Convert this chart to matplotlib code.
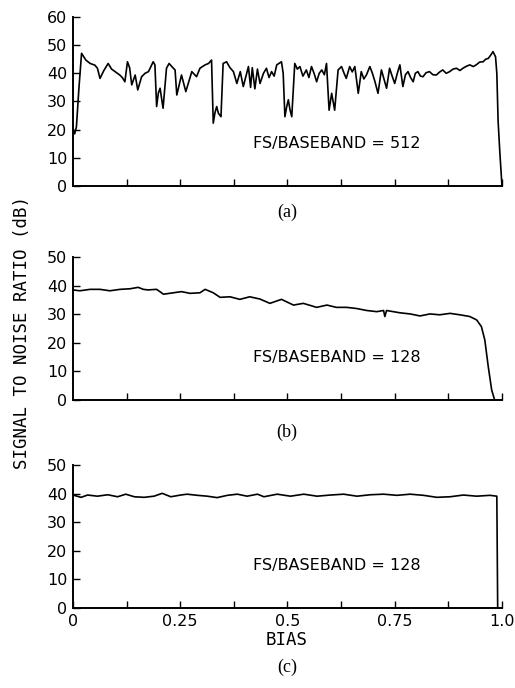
import matplotlib
matplotlib.use('Agg')
import matplotlib.pyplot as plt

# panel (a): FS/BASEBAND = 512
a_bias = [0.0, 0.004, 0.008, 0.014, 0.02, 0.03, 0.04, 0.051, 0.057, 0.063, 0.072, 0.082,
          0.09, 0.098, 0.109, 0.115, 0.121, 0.127, 0.132, 0.137, 0.145, 0.151, 0.16, 0.168,
          0.176, 0.182, 0.187, 0.191, 0.195, 0.199, 0.203, 0.21, 0.218, 0.224, 0.234, 0.238,
          0.242, 0.253, 0.263, 0.277, 0.288, 0.296, 0.308, 0.316, 0.323, 0.327, 0.331, 0.335,
          0.339, 0.345, 0.35, 0.358, 0.366, 0.374, 0.382, 0.39, 0.397, 0.405, 0.409, 0.414,
          0.418, 0.424, 0.43, 0.436, 0.444, 0.451, 0.457, 0.463, 0.469, 0.475, 0.486, 0.49,
          0.494, 0.498, 0.502, 0.506, 0.51, 0.517, 0.523, 0.529, 0.536, 0.544, 0.55, 0.556,
          0.562, 0.568, 0.574, 0.58, 0.586, 0.591, 0.597, 0.603, 0.61, 0.618, 0.626, 0.632,
          0.637, 0.645, 0.651, 0.657, 0.665, 0.672, 0.678, 0.684, 0.692, 0.698, 0.704, 0.711,
          0.719, 0.725, 0.731, 0.738, 0.744, 0.75, 0.756, 0.762, 0.769, 0.775, 0.781, 0.787,
          0.793, 0.798, 0.804, 0.81, 0.816, 0.823, 0.831, 0.839, 0.847, 0.855, 0.862, 0.87,
          0.878, 0.886, 0.894, 0.902, 0.909, 0.917, 0.925, 0.933, 0.94, 0.948, 0.956, 0.962,
          0.968, 0.974, 0.979, 0.985, 0.988, 0.991, 0.995, 1.0]
a_snr = [20.5, 18.5, 21.0, 35.0, 47.1, 44.7, 43.5, 42.9, 41.8, 38.2, 41.0, 43.5,
         41.5, 40.6, 39.4, 38.5, 37.0, 44.1, 42.0, 35.9, 39.4, 34.1, 38.8, 40.0,
         40.6, 42.5, 44.1, 43.0, 28.2, 33.0, 34.7, 27.6, 41.8, 43.5, 41.8, 41.2,
         32.3, 39.4, 33.5, 40.6, 38.8, 41.8, 43.0, 43.5, 44.7, 22.3, 26.0, 28.2,
         25.8, 24.6, 43.5, 44.1, 42.0, 40.6, 36.4, 40.6, 35.3, 40.0, 42.4, 35.0,
         42.0, 34.5, 41.5, 36.4, 40.0, 41.8, 38.5, 40.6, 39.0, 43.0, 44.1, 40.0,
         24.6, 28.0, 30.6, 27.0, 24.6, 43.5, 41.5, 42.4, 39.0, 41.2, 38.5, 42.4,
         40.0, 37.0, 40.0, 41.2, 39.5, 43.5, 26.9, 32.9, 26.9, 41.2, 42.4, 40.0,
         38.2, 42.4, 40.5, 42.4, 32.9, 40.6, 38.0, 39.4, 42.4, 40.0, 37.0, 32.9,
         41.2, 38.0, 34.7, 41.8, 39.0, 36.4, 40.0, 43.0, 35.3, 39.5, 40.6, 38.5,
         37.0, 40.0, 40.6, 39.0, 38.8, 40.2, 40.6, 39.5, 39.4, 40.5, 41.2, 40.0,
         40.6, 41.5, 41.8, 41.0, 41.8, 42.5, 43.0, 42.4, 43.0, 44.0, 44.1, 45.0,
         45.3, 46.5, 47.7, 45.9, 40.0, 23.0, 12.0, 0.0]

# panel (b): FS/BASEBAND = 128
b_bias = [0.0, 0.016, 0.04, 0.063, 0.086, 0.11, 0.133, 0.152, 0.164, 0.175, 0.195, 0.211,
          0.234, 0.253, 0.273, 0.296, 0.308, 0.327, 0.343, 0.366, 0.389, 0.412, 0.436, 0.459,
          0.486, 0.514, 0.537, 0.568, 0.592, 0.614, 0.638, 0.661, 0.685, 0.708, 0.724, 0.727,
          0.731, 0.762, 0.786, 0.809, 0.832, 0.855, 0.879, 0.902, 0.925, 0.941, 0.952, 0.96,
          0.968, 0.976, 0.983]
b_snr = [38.5, 38.2, 38.7, 38.7, 38.2, 38.7, 38.9, 39.4, 38.7, 38.5, 38.7, 37.0,
         37.5, 37.9, 37.3, 37.5, 38.7, 37.5, 35.9, 36.1, 35.2, 36.1, 35.3, 33.8,
         35.2, 33.2, 33.8, 32.4, 33.2, 32.4, 32.4, 32.0, 31.3, 30.9, 31.3, 29.2,
         31.3, 30.5, 30.1, 29.4, 30.1, 29.8, 30.3, 29.8, 29.2, 28.0, 25.7, 21.0,
         11.7, 3.5, 0.0]

# panel (c): FS/BASEBAND = 128
c_bias = [0.0, 0.019, 0.034, 0.057, 0.081, 0.104, 0.123, 0.143, 0.166, 0.189, 0.208, 0.228,
          0.251, 0.266, 0.29, 0.313, 0.336, 0.36, 0.383, 0.406, 0.43, 0.445, 0.476, 0.507,
          0.538, 0.569, 0.6, 0.631, 0.662, 0.693, 0.724, 0.755, 0.786, 0.817, 0.848, 0.879,
          0.91, 0.941, 0.972, 0.988, 0.99]
c_snr = [39.5, 38.7, 39.5, 39.1, 39.6, 38.9, 39.8, 38.9, 38.7, 39.1, 40.1, 38.9,
         39.5, 39.8, 39.4, 39.1, 38.6, 39.4, 39.8, 39.1, 39.8, 38.9, 39.8, 39.1,
         39.8, 39.1, 39.5, 39.8, 39.1, 39.6, 39.8, 39.4, 39.8, 39.4, 38.7, 38.9,
         39.5, 39.1, 39.4, 39.1, 0.0]

fig = plt.figure(figsize=(5.15, 6.88), dpi=100)

label_font = 'DejaVu Sans Mono'
tick_size = 11.5

def style(ax, ymax):
    for s in ['top', 'right']:
        ax.spines[s].set_visible(False)
    for s in ['left', 'bottom']:
        ax.spines[s].set_linewidth(1.4)
    ax.set_xlim(0, 1.0)
    ax.set_ylim(0, ymax)
    ax.set_yticks(range(0, ymax + 1, 10))
    ax.tick_params(direction='in', length=5, width=1.0, labelsize=tick_size, pad=4)

# (a)
ax1 = fig.add_axes([0.1417, 0.7297, 0.833, 0.2456])
ax1.plot(a_bias, a_snr, color='k', linewidth=1.2, clip_on=False)
style(ax1, 60)
ax1.set_xticks([0.125 * i for i in range(1, 9)])
ax1.set_xticklabels([])
ax1.text(0.42, 15, 'FS/BASEBAND = 512', fontsize=11.5, va='center')

# (b)
ax2 = fig.add_axes([0.1417, 0.4186, 0.833, 0.2078])
ax2.plot(b_bias, b_snr, color='k', linewidth=1.2, clip_on=False)
style(ax2, 50)
ax2.set_xticks([0.125 * i for i in range(1, 9)])
ax2.set_xticklabels([])
ax2.text(0.42, 15, 'FS/BASEBAND = 128', fontsize=11.5, va='center')

# (c)
ax3 = fig.add_axes([0.1417, 0.1163, 0.833, 0.2078])
ax3.plot(c_bias, c_snr, color='k', linewidth=1.2, clip_on=False)
style(ax3, 50)
ax3.set_xticks([0, 0.25, 0.5, 0.75, 1.0])
ax3.set_xticklabels(['0', '0.25', '0.5', '0.75', '1.0'])
ax3.set_xticks([0.125, 0.375, 0.625, 0.875], minor=True)
ax3.tick_params(which='minor', direction='in', length=5, width=1.0)
ax3.text(0.42, 15, 'FS/BASEBAND = 128', fontsize=11.5, va='center')

fig.text(0.557, 0.0698, 'BIAS', family=label_font, fontsize=12.5, ha='center', va='center')
fig.text(0.043, 0.517, 'SIGNAL TO NOISE RATIO (dB)', family=label_font, fontsize=12.5,
         rotation=90, ha='center', va='center')

fig.text(0.557, 0.692, '(a)', family='Liberation Serif', fontsize=13, ha='center', va='center')
fig.text(0.557, 0.371, '(b)', family='Liberation Serif', fontsize=13, ha='center', va='center')
fig.text(0.557, 0.0305, '(c)', family='Liberation Serif', fontsize=13, ha='center', va='center')

fig.savefig('out.png', dpi=100)
